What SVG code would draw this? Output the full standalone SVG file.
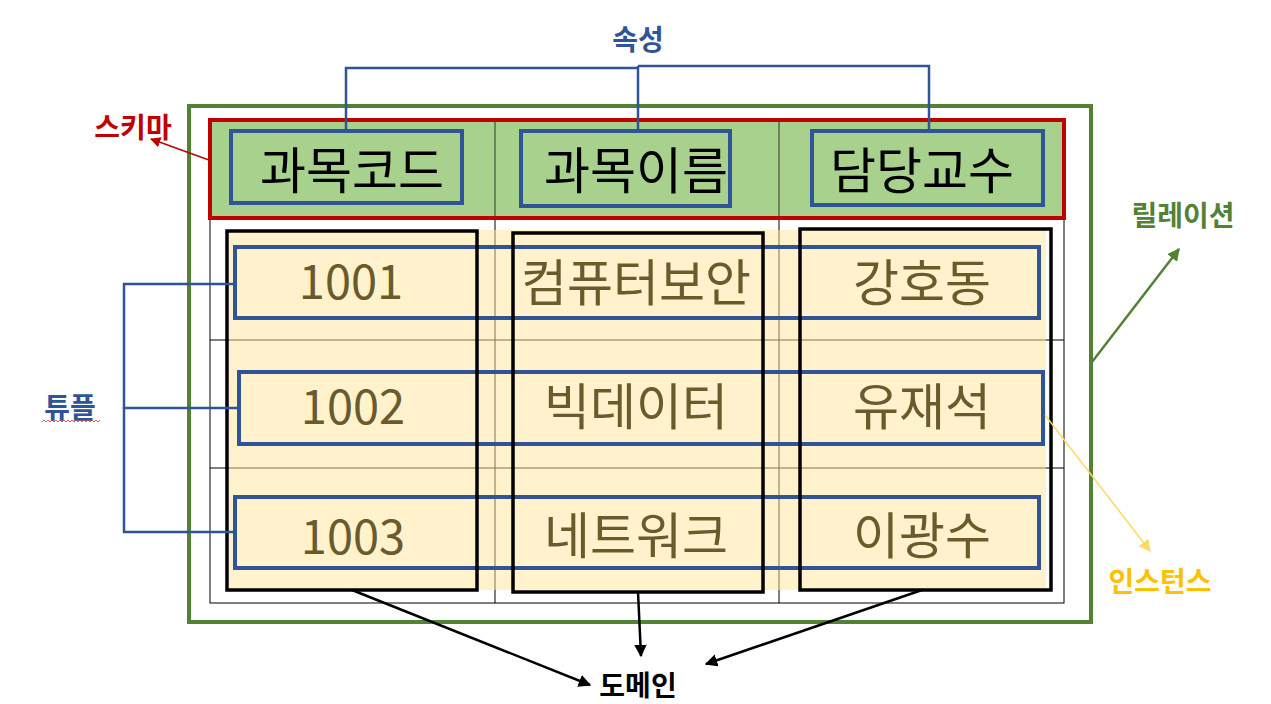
<svg xmlns="http://www.w3.org/2000/svg" width="1271" height="704" viewBox="0 0 1271 704">
<defs>
<marker id="ah-black" viewBox="0 0 10 10" refX="9" refY="5" markerWidth="5" markerHeight="5" orient="auto" markerUnits="strokeWidth"><path d="M0,0 L10,5 L0,10 z" fill="#000"/></marker>
<marker id="ah-red" viewBox="0 0 10 10" refX="9" refY="5" markerWidth="7" markerHeight="7" orient="auto" markerUnits="strokeWidth"><path d="M0,0 L10,5 L0,10 z" fill="#C00000"/></marker>
<marker id="ah-green" viewBox="0 0 10 10" refX="9" refY="5" markerWidth="5" markerHeight="5" orient="auto" markerUnits="strokeWidth"><path d="M0,0 L10,5 L0,10 z" fill="#548235"/></marker>
<marker id="ah-yellow" viewBox="0 0 10 10" refX="9" refY="5" markerWidth="8" markerHeight="8" orient="auto" markerUnits="strokeWidth"><path d="M0,0 L10,5 L0,10 z" fill="#FFD966"/></marker>
</defs>
<style>
.lbl{font-family:"Noto Sans CJK KR","Noto Sans",sans-serif;font-weight:700;font-size:28px;text-anchor:middle}
.hdr{font-family:"Noto Sans CJK KR","Noto Sans",sans-serif;font-size:50px;font-weight:400;text-anchor:middle;fill:#000}
.dat{font-family:"Noto Sans CJK KR","Noto Sans",sans-serif;font-size:50px;font-weight:400;text-anchor:middle;fill:#6B5A2B}
.num{font-family:"Noto Sans CJK KR","Noto Sans",sans-serif;font-size:47px;font-weight:400;text-anchor:middle;fill:#6B5A2B}
.grid{stroke:#000;stroke-width:1;fill:none}
.tuple{fill:none;stroke:#2F5597;stroke-width:4}
.attr{fill:none;stroke:#2F5597;stroke-width:4}
.domain{fill:none;stroke:#000;stroke-width:3.5}
.blue-con{fill:none;stroke:#2F5597;stroke-width:2.5}
.blk-arrow{fill:none;stroke:#000;stroke-width:2.5;marker-end:url(#ah-black)}
</style>
<rect x="0" y="0" width="1271" height="704" fill="#fff"/>

<g id="relation">
<rect x="189" y="106" width="902" height="516" fill="none" stroke="#548235" stroke-width="4"/>
</g>

<g id="table">
<rect x="210" y="218" width="854" height="385" class="grid"/>
<line x1="210" y1="340" x2="1064" y2="340" class="grid"/>
<line x1="210" y1="468" x2="1064" y2="468" class="grid"/>
<line x1="495" y1="218" x2="495" y2="603" class="grid"/>
<line x1="779" y1="218" x2="779" y2="603" class="grid"/>
<rect id="instance-area" x="229" y="230" width="817" height="360" fill="#FFE699" fill-opacity="0.5"/>
</g>

<g id="schema">
<rect x="210" y="120" width="854" height="98" fill="#A9D18E"/>
<line x1="495" y1="120" x2="495" y2="218" stroke="#333" stroke-width="1"/>
<line x1="779" y1="120" x2="779" y2="218" stroke="#333" stroke-width="1"/>
<rect x="210" y="120" width="854" height="98" fill="none" stroke="#C00000" stroke-width="4"/>
</g>

<g id="attr-code"><rect x="231" y="131" width="231" height="72" class="attr"/><text x="352" y="189" class="hdr">과목코드</text></g>
<g id="attr-name"><rect x="521" y="131" width="209" height="75" class="attr"/><text x="636" y="189" class="hdr">과목이름</text></g>
<g id="attr-prof"><rect x="812" y="131" width="231" height="74" class="attr"/><text x="922" y="189" class="hdr">담당교수</text></g>

<g id="tuple-1"><rect x="235" y="247" width="804" height="71" class="tuple"/>
<text x="351" y="299" class="num">1001</text><text x="636" y="301" class="dat">컴퓨터보안</text><text x="922" y="301" class="dat">강호동</text></g>
<g id="tuple-2"><rect x="239" y="372" width="804" height="72" class="tuple"/>
<text x="353" y="424" class="num">1002</text><text x="636" y="425" class="dat">빅데이터</text><text x="922" y="425" class="dat">유재석</text></g>
<g id="tuple-3"><rect x="235" y="497" width="804" height="71" class="tuple"/>
<text x="353" y="554" class="num">1003</text><text x="636" y="554" class="dat">네트워크</text><text x="922" y="554" class="dat">이광수</text></g>

<g id="domain-1"><rect x="227" y="231" width="250" height="359" class="domain"/></g>
<g id="domain-2"><rect x="513" y="233" width="250" height="359" class="domain"/></g>
<g id="domain-3"><rect x="800" y="229" width="251" height="361" class="domain"/></g>

<g id="connectors">
<polyline points="346,131 346,68 638,68" class="blue-con"/>
<polyline points="929,131 929,66 638,66" class="blue-con"/>
<line x1="638" y1="66" x2="638" y2="131" class="blue-con"/>
<polyline points="235,284 124,284 124,532 235,532" class="blue-con"/>
<line x1="124" y1="408" x2="239" y2="408" class="blue-con"/>
<line x1="209" y1="160" x2="151" y2="139" stroke="#C00000" stroke-width="1.5" marker-end="url(#ah-red)"/>
<line x1="1092" y1="362" x2="1179" y2="249" stroke="#548235" stroke-width="2.5" marker-end="url(#ah-green)"/>
<line x1="1045" y1="415" x2="1150" y2="551" stroke="#FFD966" stroke-width="1.5" marker-end="url(#ah-yellow)"/>
<line x1="352" y1="590" x2="590" y2="685" class="blk-arrow"/>
<line x1="638" y1="592" x2="641" y2="656" class="blk-arrow"/>
<line x1="922" y1="590" x2="706" y2="664" class="blk-arrow"/>
</g>

<g id="label-attribute"><text x="638" y="50" class="lbl" fill="#2F5597">속성</text></g>
<g id="label-schema"><text x="133" y="138" class="lbl" fill="#C00000">스키마</text></g>
<g id="label-relation"><text x="1183" y="226" class="lbl" fill="#548235">릴레이션</text></g>
<g id="label-tuple"><text x="70" y="418" class="lbl" fill="#2F5597">튜플</text>
<polyline points="42,422 44,420 46,422 48,420 50,422 52,420 54,422 56,420 58,422 60,420 62,422 64,420 66,422 68,420 70,422 72,420 74,422 76,420 78,422 80,420 82,422 84,420 86,422 88,420 90,422 92,420 94,422 96,420 98,422 100,420" fill="none" stroke="#E03030" stroke-width="0.8"/></g>
<g id="label-instance"><text x="1160" y="592" class="lbl" fill="#FFC000">인스턴스</text></g>
<g id="label-domain"><text x="638" y="696" class="lbl" fill="#000">도메인</text></g>
</svg>
